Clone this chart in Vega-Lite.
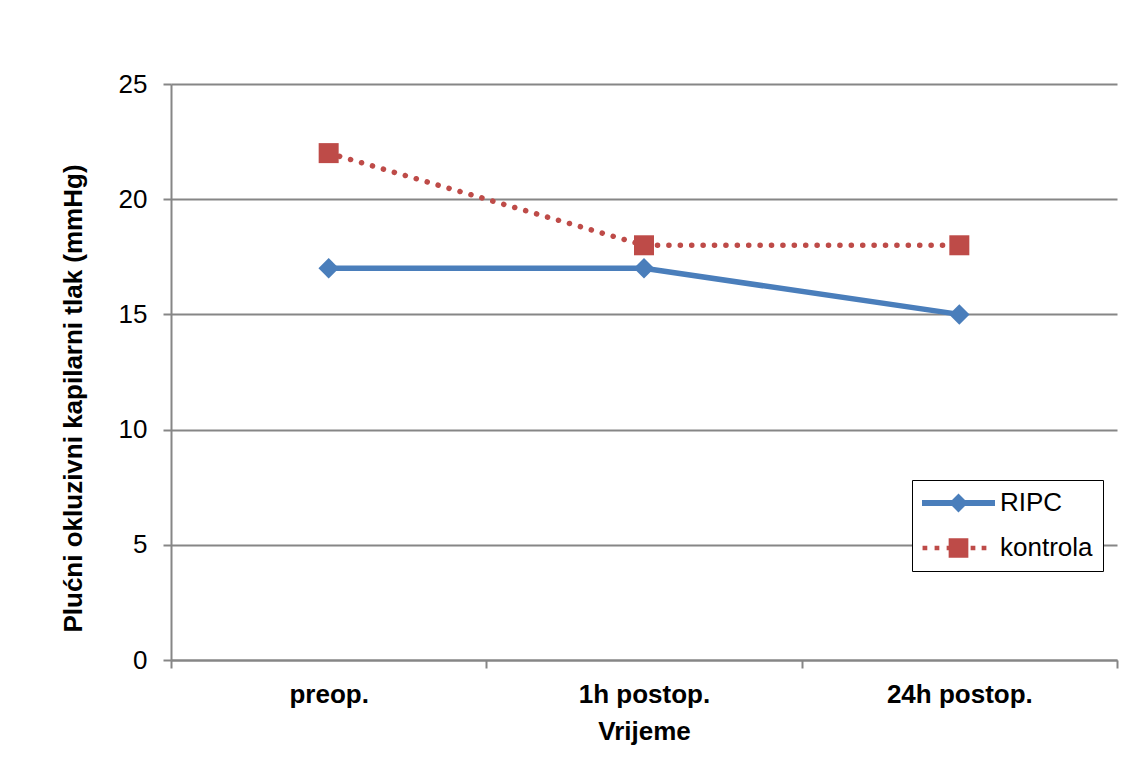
{
  "$schema": "https://vega.github.io/schema/vega-lite/v6.json",
  "autosize": {"type": "none"},
  "width": 946,
  "height": 576,
  "padding": {"left": 171, "top": 84, "right": 15, "bottom": 97},
  "background": "white",
  "config": {
    "font": "Liberation Sans",
    "view": {"stroke": null},
    "axis": {
      "labelFont": "Liberation Sans",
      "titleFont": "Liberation Sans",
      "labelColor": "black",
      "titleColor": "black",
      "labelFontSize": 26,
      "titleFontSize": 26,
      "titleFontWeight": "bold",
      "domainColor": "#868686",
      "tickColor": "#868686",
      "gridColor": "#868686",
      "domainWidth": 2,
      "tickWidth": 2,
      "gridWidth": 2,
      "tickSize": 8
    }
  },
  "data": {
    "values": [
      {"time": "preop.", "series": "RIPC", "value": 17},
      {"time": "1h postop.", "series": "RIPC", "value": 17},
      {"time": "24h postop.", "series": "RIPC", "value": 15},
      {"time": "preop.", "series": "kontrola", "value": 22},
      {"time": "1h postop.", "series": "kontrola", "value": 18},
      {"time": "24h postop.", "series": "kontrola", "value": 18}
    ]
  },
  "encoding": {
    "x": {
      "field": "time",
      "type": "nominal",
      "sort": ["preop.", "1h postop.", "24h postop."],
      "scale": {"paddingInner": 0, "paddingOuter": 0},
      "axis": {
        "title": "Vrijeme",
        "labelAngle": 0,
        "labelFontWeight": "bold",
        "tickBand": "extent",
        "labelPadding": 13,
        "titlePadding": 11,
        "grid": false
      }
    },
    "y": {
      "field": "value",
      "type": "quantitative",
      "scale": {"domain": [0, 25], "nice": false},
      "axis": {
        "title": "Plućni okluzivni kapilarni tlak (mmHg)",
        "values": [0, 5, 10, 15, 20, 25],
        "labelPadding": 16,
        "titlePadding": 32,
        "titleY": 314,
        "grid": true
      }
    }
  },
  "layer": [
    {
      "transform": [{"filter": "datum.series == 'RIPC'"}],
      "mark": {"type": "line", "color": "#4A7EBB", "strokeWidth": 5.5}
    },
    {
      "transform": [{"filter": "datum.series == 'kontrola'"}],
      "mark": {"type": "line", "color": "#BE4B48", "strokeWidth": 5.5, "strokeDash": [0.1, 11.3], "strokeCap": "round"}
    },
    {
      "transform": [{"filter": "datum.series == 'RIPC'"}],
      "mark": {"type": "point", "shape": "diamond", "filled": true, "size": 420, "color": "#4A7EBB", "opacity": 1}
    },
    {
      "transform": [{"filter": "datum.series == 'kontrola'"}],
      "mark": {"type": "point", "shape": "square", "filled": true, "size": 400, "color": "#BE4B48", "opacity": 1}
    },
    {
      "transform": [{"filter": "false"}],
      "mark": {"type": "point", "filled": true, "opacity": 1},
      "encoding": {
        "color": {
          "field": "series",
          "type": "nominal",
          "sort": null,
          "scale": {"domain": ["RIPC", "kontrola"], "range": ["#4A7EBB", "#BE4B48"]},
          "legend": {
            "title": null,
            "orient": "none",
            "legendX": 741,
            "legendY": 396,
            "strokeColor": "black",
            "fillColor": "white",
            "padding": 10,
            "symbolSize": 5329,
            "clipHeight": 26,
            "symbolStrokeWidth": 0,
            "symbolOpacity": 1,
            "labelFont": "Liberation Sans",
            "labelFontSize": 26,
            "labelColor": "black",
            "labelOffset": 5,
            "rowPadding": 19
          }
        },
        "shape": {
          "field": "series",
          "type": "nominal",
          "sort": null,
          "scale": {
            "domain": ["RIPC", "kontrola"],
            "range": [
              "M-1,-0.08H1V0.08H-1Z M0,-0.26L0.26,0L0,0.26L-0.26,0Z",
              "M-0.27,-0.27H0.27V0.27H-0.27Z M-0.985,-0.065H-0.855V0.065H-0.985Z M-0.655,-0.065H-0.525V0.065H-0.655Z M-0.325,-0.065H-0.195V0.065H-0.325Z M0.332,-0.065H0.462V0.065H0.332Z M0.634,-0.065H0.764V0.065H0.634Z"
            ]
          },
          "legend": {
            "title": null,
            "orient": "none",
            "legendX": 741,
            "legendY": 396,
            "strokeColor": "black",
            "fillColor": "white",
            "padding": 10,
            "symbolSize": 5329,
            "clipHeight": 26,
            "symbolStrokeWidth": 0,
            "symbolOpacity": 1,
            "labelFont": "Liberation Sans",
            "labelFontSize": 26,
            "labelColor": "black",
            "labelOffset": 5,
            "rowPadding": 19
          }
        }
      }
    }
  ]
}
